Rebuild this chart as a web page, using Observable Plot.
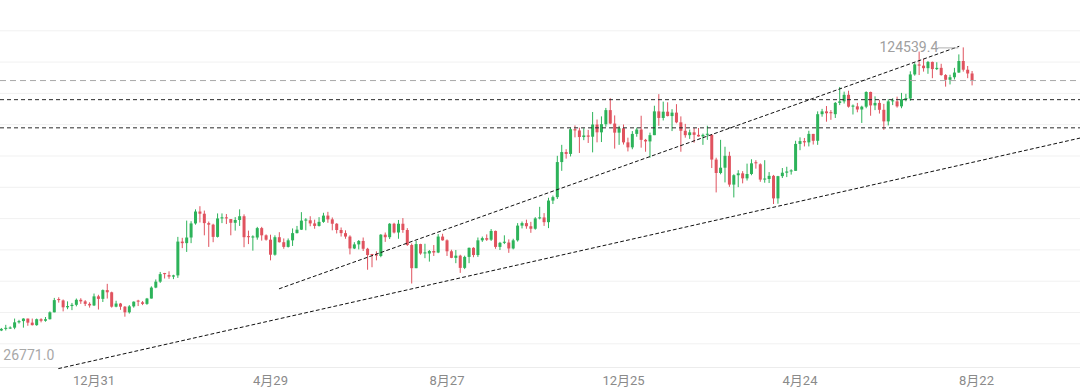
<!DOCTYPE html>
<html><head><meta charset="utf-8">
<script src="https://cdn.jsdelivr.net/npm/d3@7"></script>
<script src="https://cdn.jsdelivr.net/npm/@observablehq/plot@0.6"></script>
<style>
html,body{margin:0;padding:0;background:#fff;}
#chart{width:1080px;height:392px;overflow:hidden;}
</style></head><body><div id="chart"></div>
<script>
// 3-day candles, prices in thousands of USD
const firstCandle = "2023-10-29";
const candleStepDays = 3;
const open = [
34.1,34.6,34.7,35.0,36.7,37.1,37.9,36.6,35.8,37.7,
37.2,37.7,39.9,43.8,43.7,41.5,41.9,42.3,43.9,43.4,
42.6,42.1,45.0,44.2,47.0,46.3,41.7,42.7,41.7,39.9,
41.8,43.3,43.1,42.6,44.3,47.8,49.7,52.1,51.8,51.3,
51.7,62.5,62.0,63.8,68.3,72.1,71.4,68.4,67.9,64.0,
69.9,69.9,69.7,68.5,69.4,70.6,63.9,63.8,63.8,66.8,
64.5,63.1,58.3,63.9,62.3,60.8,62.9,65.2,66.3,69.2,
69.3,68.3,67.5,68.8,70.8,69.6,68.2,66.2,65.2,64.1,
60.3,61.6,62.7,60.2,58.2,58.0,57.9,64.7,63.9,68.2,
65.4,68.2,66.2,61.4,54.0,61.7,58.7,58.7,59.5,59.0,
64.1,62.9,59.4,57.3,58.0,54.1,57.6,60.5,58.2,62.9,
63.6,63.1,65.9,60.8,62.1,62.2,60.3,62.9,67.6,68.4,
67.4,66.6,69.9,70.2,68.7,75.6,76.7,87.9,91.1,90.5,
98.4,98.0,95.9,96.4,96.0,99.9,97.4,100.0,104.5,100.2,
97.3,98.7,94.2,92.6,96.9,98.3,95.0,94.5,96.5,104.1,
102.0,104.0,102.6,103.7,100.6,97.9,96.5,97.4,96.6,96.1,
96.6,96.6,88.7,84.4,86.1,89.9,80.7,83.7,84.3,82.7,
84.1,87.5,87.2,82.3,82.5,83.5,76.3,83.4,84.5,84.9,
85.1,93.7,94.6,94.2,96.9,94.7,103.2,104.1,103.5,103.2,
106.8,107.3,109.4,105.6,105.7,104.7,105.6,110.3,106.0,106.8,
104.6,100.9,107.3,107.3,105.7,108.0,108.2,115.9,119.1,118.7,
117.9,119.9,117.6,118.0,115.7,114.2,115.0,116.5,120.2,117.4,
116.2];
const high = [
34.9,35.9,35.4,37.9,37.5,38.0,37.9,37.9,37.9,38.0,
38.4,40.2,44.5,44.7,44.0,43.4,42.9,44.3,44.4,43.8,
43.1,45.9,45.5,47.2,49.0,46.5,43.6,42.9,41.9,42.2,
43.4,43.9,43.5,44.5,48.2,50.4,52.8,52.5,53.0,51.9,
64.0,63.7,69.2,69.0,72.8,73.8,72.4,68.9,68.2,71.5,
71.5,71.3,69.7,70.3,72.8,71.2,66.0,64.5,67.2,67.2,
64.8,64.7,64.5,65.5,63.5,63.5,66.7,67.5,71.9,70.0,
70.6,69.5,70.3,71.7,72.0,70.2,68.4,67.0,66.1,64.5,
62.3,63.0,63.8,60.5,58.3,59.4,64.9,65.4,68.4,68.5,
69.4,70.0,66.8,61.9,62.7,61.8,61.8,59.8,61.4,64.9,
65.0,63.2,59.9,59.8,58.3,58.0,60.6,60.7,63.8,64.1,
64.8,66.5,66.0,62.4,64.5,63.2,63.4,68.4,68.9,69.5,
68.8,70.3,73.6,71.6,76.5,77.2,89.9,93.4,92.0,98.9,
99.6,98.9,98.7,98.2,103.9,101.5,102.5,105.2,108.3,102.8,
99.5,99.9,95.7,97.8,98.9,102.7,95.3,97.3,105.9,109.6,
107.2,107.0,104.8,106.4,102.5,100.1,98.3,98.8,98.8,97.0,
99.5,96.8,89.3,95.0,92.8,91.2,84.0,85.3,85.0,87.4,
88.8,88.5,87.5,88.5,84.7,83.8,83.5,86.0,86.4,85.6,
94.7,95.8,95.6,97.9,96.9,104.1,104.9,105.8,104.5,107.1,
111.9,110.4,110.7,106.3,106.8,105.9,110.5,110.4,108.9,107.8,
106.5,108.0,108.3,108.8,110.0,109.7,116.9,119.5,123.2,120.9,
120.2,120.0,119.8,119.3,116.0,115.8,118.0,122.3,124.54,118.6,
117.0];
const low = [
33.9,34.1,34.6,34.5,36.3,35.0,35.6,35.7,35.6,36.7,
36.9,37.6,39.9,43.0,40.2,40.9,40.6,41.8,42.6,41.9,
41.4,41.9,40.8,43.2,44.3,41.4,41.5,40.7,38.5,39.5,
41.4,41.9,42.2,42.3,44.3,47.6,49.3,50.7,50.6,50.5,
50.9,60.4,59.2,62.0,67.9,68.6,64.5,60.8,62.3,63.8,
68.4,68.1,64.5,66.0,67.5,60.7,61.7,59.6,63.1,62.8,
62.8,56.5,58.0,62.2,60.2,60.6,61.1,65.1,66.2,66.1,
67.4,66.6,67.3,68.5,68.5,66.1,65.1,64.1,63.4,58.4,
60.1,60.0,59.5,53.5,54.3,56.5,57.5,62.4,63.3,65.1,
63.4,65.3,61.1,49.1,54.0,58.3,57.2,56.1,57.9,58.8,
62.8,57.9,57.2,55.6,52.5,53.7,55.6,57.5,57.6,62.4,
62.7,62.7,60.2,59.8,61.7,58.9,60.0,62.5,66.7,66.6,
65.3,66.3,69.6,67.5,66.8,74.5,76.1,85.1,89.0,89.7,
95.8,90.8,94.9,94.0,91.0,94.2,94.3,99.2,100.0,92.2,
93.4,93.5,91.3,92.0,96.0,92.5,91.2,89.3,96.5,99.5,
101.2,102.5,97.8,100.3,91.2,95.7,95.3,94.1,96.0,93.4,
95.0,86.0,78.2,84.0,81.4,80.0,76.6,79.9,81.1,82.0,
83.7,85.8,81.6,81.3,81.2,74.5,74.6,82.8,83.1,83.9,
85.1,91.7,92.9,92.9,93.5,93.4,102.4,100.8,101.4,102.0,
106.1,106.6,105.3,103.1,103.8,100.4,105.1,102.7,104.5,103.4,
98.2,99.6,106.1,105.3,105.1,107.3,107.5,115.5,115.7,116.8,
116.1,114.7,117.3,115.5,112.0,112.7,114.3,116.4,116.8,114.7,
112.4];
const close = [
34.6,34.7,35.0,36.7,37.1,37.9,36.6,35.8,37.7,37.2,
37.7,39.9,43.8,43.7,41.5,41.9,42.3,43.9,43.4,42.6,
42.1,45.0,44.2,47.0,46.3,41.7,42.7,41.7,39.9,41.8,
43.3,43.1,42.6,44.3,47.8,49.7,52.1,51.8,51.3,51.7,
62.5,62.0,63.8,68.3,72.1,71.4,68.4,67.9,64.0,69.9,
69.9,69.7,68.5,69.4,70.6,63.9,63.8,63.8,66.8,64.5,
63.1,58.3,63.9,62.3,60.8,62.9,65.2,66.3,69.2,69.3,
68.3,67.5,68.8,70.8,69.6,68.2,66.2,65.2,64.1,60.3,
61.6,62.7,60.2,58.2,58.0,57.9,64.7,63.9,68.2,65.4,
68.2,66.2,61.4,54.0,61.7,58.7,58.7,59.5,59.0,64.1,
62.9,59.4,57.3,58.0,54.1,57.6,60.5,58.2,62.9,63.6,
63.1,65.9,60.8,62.1,62.2,60.3,62.9,67.6,68.4,67.4,
66.6,69.9,70.2,68.7,75.6,76.7,87.9,91.1,90.5,98.4,
98.0,95.9,96.4,96.0,99.9,97.4,100.0,104.5,100.2,97.3,
98.7,94.2,92.6,96.9,98.3,95.0,94.5,96.5,104.1,102.0,
104.0,102.6,103.7,100.6,97.9,96.5,97.4,96.6,96.1,96.6,
96.6,88.7,84.4,86.1,89.9,80.7,83.7,84.3,82.7,84.1,
87.5,87.2,82.3,82.5,83.5,76.3,83.4,84.5,84.9,85.1,
93.7,94.6,94.2,96.9,94.7,103.2,104.1,103.5,103.2,106.8,
107.3,109.4,105.6,105.7,104.7,105.6,110.3,106.0,106.8,104.6,
100.9,107.3,107.3,105.7,108.0,108.2,115.9,119.1,118.7,117.9,
119.9,117.6,118.0,115.7,114.2,115.0,116.5,120.2,117.4,116.2,
114.1];

const xTickDates = ["2023-12-31","2024-04-29","2024-08-27","2024-12-25","2025-04-24","2025-08-22"];
const xTickLabels = ["12月31","4月29","8月27","12月25","4月24","8月22"];
const gridPrices = [30,40,50,60,70,80,90,100,110,120,130];
const levelPrices = [99.0, 108.0];
const lastPrice = [114.1];
const maxLabel = "124539.4", maxPrice = 124.5394, maxDate = "2025-08-13";
const minLabel = "26771.0", minPrice = 26.771;
const upperTrendDates = ["2024-05-05","2025-08-10"];
const upperTrendPrices = [47.6, 125.0];
const lowerTrendDates = ["2023-12-07","2025-11-02"];
const lowerTrendPrices = [22.1, 95.9];

const UP = "#2db35a", DOWN = "#e0535f";
const t = s => new Date(s + "T00:00:00Z");
const t0 = t(firstCandle);
const candles = open.map((o, i) => ({
  date: d3.utcDay.offset(t0, candleStepDays * i),
  open: o, high: high[i], low: low[i], close: close[i]
}));
const color = d => d.close >= d.open ? UP : DOWN;
const bodyTop = d => Math.abs(d.close - d.open) < 0.35 ? d.open + 0.35 : d.close;
const tickDates = xTickDates.map(t);
const upper = upperTrendDates.map((d, i) => ({date: t(d), price: upperTrendPrices[i]}));
const lower = lowerTrendDates.map((d, i) => ({date: t(d), price: lowerTrendPrices[i]}));
const mDate = t(maxDate);

const chart = Plot.plot({
  width: 1080, height: 392,
  marginTop: 0, marginRight: 0, marginBottom: 25, marginLeft: 0,
  style: {fontFamily: "Roboto, 'Noto Sans CJK SC', sans-serif", background: "#fff", overflow: "visible"},
  x: {type: "utc", domain: [new Date("2023-10-28T10:00:00Z"), new Date("2025-10-31T17:00:00Z")]},
  y: {domain: [22.43, 139.68], axis: null},
  marks: [
    Plot.ruleY(gridPrices, {stroke: "#f1f1f1", strokeWidth: 1}),
    Plot.frame({anchor: "bottom", stroke: "#ececec"}),
    Plot.ruleX(candles, {x: "date", y1: "low", y2: "high", stroke: color, strokeWidth: 1}),
    Plot.ruleX(candles, {x: "date", y1: "open", y2: bodyTop, stroke: color, strokeWidth: 3}),
    Plot.ruleY(levelPrices, {stroke: "#2a2a2a", strokeWidth: 1, strokeDasharray: "4,3"}),
    Plot.ruleY(lastPrice, {stroke: "#a8a8a8", strokeWidth: 1, strokeDasharray: "6,4"}),
    Plot.line(upper, {x: "date", y: "price", stroke: "#111", strokeWidth: 1, strokeDasharray: "3,3"}),
    Plot.line(lower, {x: "date", y: "price", stroke: "#111", strokeWidth: 1, strokeDasharray: "3,3"}),
    Plot.ruleY([maxPrice], {x1: d3.utcDay.offset(mDate, -17), x2: d3.utcDay.offset(mDate, -3), stroke: "#b0b0b0", strokeWidth: 1}),
    Plot.text([maxLabel], {x: mDate, y: maxPrice, text: d => d, textAnchor: "end", dx: -25, fontSize: 14, fill: "#a0a0a0"}),
    Plot.text([minLabel], {x: t0, y: minPrice, text: d => d, textAnchor: "start", dx: 2, dy: 2, fontSize: 14, fill: "#a8a8a8"}),
    Plot.axisX({ticks: tickDates, tickFormat: (d, i) => xTickLabels[i], tickSize: 0, tickPadding: 8, fontSize: 13, fill: "#8a8a8a"})
  ]
});
document.getElementById("chart").append(chart);
</script></body></html>
